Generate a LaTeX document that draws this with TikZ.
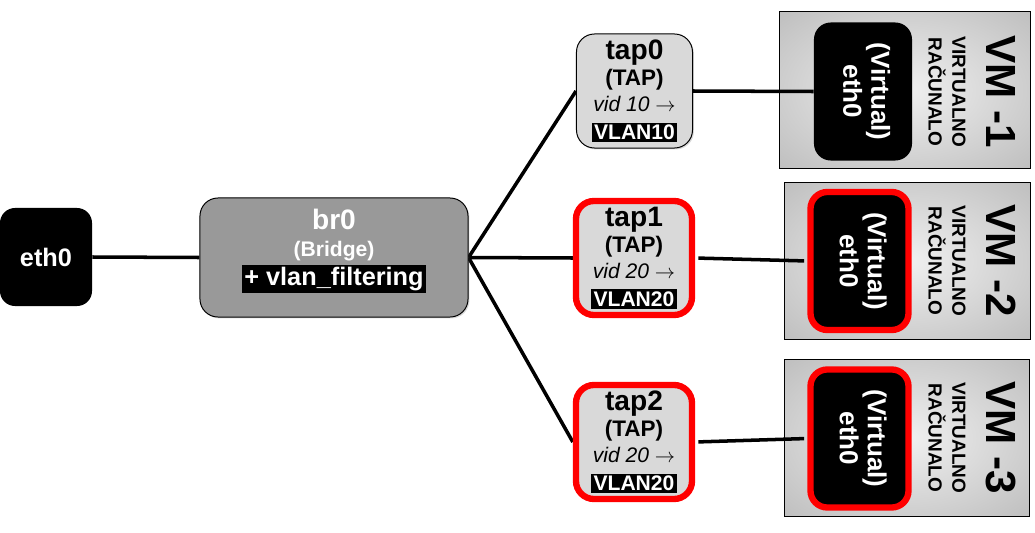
\documentclass[tikz,border=0pt]{standalone}
\usepackage{fontspec}
\setmainfont{Liberation Sans}
\usepackage{graphicx}
\usetikzlibrary{shadows,backgrounds}

\definecolor{tapgray}{HTML}{D9D9D9}
\definecolor{bridgegray}{HTML}{999999}
\definecolor{vmlight}{HTML}{F0F0F0}
\definecolor{vmdark}{HTML}{ABABAB}
\definecolor{vlanred}{HTML}{FF0000}

\pgfdeclareradialshading{vmglow}{\pgfpointorigin}{color(0bp)=(vmlight); color(50bp)=(vmdark); color(71bp)=(vmdark!85!black)}

\newcommand{\titlesize}{\fontsize{20}{22}\selectfont}
\newcommand{\tagsize}{\fontsize{15}{17}\selectfont}
\newcommand{\tagbox}[1]{{\setlength{\fboxsep}{1.5pt}\colorbox{black}{\textcolor{white}{#1}}}}
\newcommand{\vethtext}{\rotatebox{-90}{\begin{tabular}{@{}c@{}}(Virtual)\\eth0\end{tabular}}}

\tikzset{
  link/.style={line width=2.5pt},
  softshadow/.style={drop shadow={shadow xshift=1pt,shadow yshift=-1pt,opacity=0.3}},
  hostport/.style={rectangle,rounded corners=0.375cm,fill=black,text=white,
    minimum width=2.3cm,minimum height=2.45cm,font=\bfseries\fontsize{18}{20}\selectfont},
  bridgebox/.style={rectangle,rounded corners=0.45cm,draw,line width=0.7pt,fill=bridgegray,
    minimum width=6.7cm,minimum height=2.975cm,softshadow},
  bridgetext/.style={text=white,align=center,font=\bfseries\fontsize{15}{19.5}\selectfont},
  tapbox/.style={rectangle,rounded corners=0.45cm,draw,line width=0.7pt,fill=tapgray,
    minimum width=2.9cm,minimum height=2.85cm,align=center,
    font=\bfseries\fontsize{16}{18.5}\selectfont,softshadow},
  tapvlan/.style={tapbox,draw=vlanred,line width=4.5pt},
  vmbox/.style={rectangle,draw,line width=0.7pt,shading=vmglow,minimum height=3.9cm,softshadow},
  vethbox/.style={rectangle,rounded corners=0.42cm,fill=black,text=white,
    minimum width=2.45cm,minimum height=3.45cm,font=\bfseries\fontsize{18.5}{20}\selectfont},
  vethvlan/.style={vethbox,draw=vlanred,line width=4.5pt},
  vmname/.style={rotate=-90,font=\bfseries\fontsize{30}{32}\selectfont},
  vmkind/.style={rotate=-90,align=center,font=\bfseries\fontsize{13.5}{17}\selectfont}
}

\begin{document}
\begin{tikzpicture}[x=0.025cm,y=-0.025cm]
  \useasboundingbox (0,0) rectangle (1035,533);
  %
  % -- Host: physical port and the bridge
  \node[hostport] (eth0) at (46,257) {eth0};
  \node[bridgebox] (br0) at (334,257.5) {};
  \node[bridgetext] (br0-label) at (334,251)
    {{\titlesize br0}\\(Bridge)\\[1pt]{\fontsize{18}{20}\selectfont\tagbox{+ vlan\_filtering}}};

  % -- TAP devices, one per guest
  \node[tapbox] (tap0) at (634.5,91)
    {{\titlesize tap0}\\(TAP)\\{\mdseries\itshape\tagsize vid 10 $\rightarrow$}\\[1pt]{\tagsize\tagbox{VLAN10}}};
  \node[tapvlan] (tap1) at (634,258)
    {{\titlesize tap1}\\(TAP)\\{\mdseries\itshape\tagsize vid 20 $\rightarrow$}\\[1pt]{\tagsize\tagbox{VLAN20}}};
  \node[tapvlan] (tap2) at (634,442)
    {{\titlesize tap2}\\(TAP)\\{\mdseries\itshape\tagsize vid 20 $\rightarrow$}\\[1pt]{\tagsize\tagbox{VLAN20}}};

  % -- Guests
  \node[vmbox,minimum width=6.25cm] (vm1) at (905,90) {};
  \node[vmbox,minimum width=6.125cm] (vm2) at (907.5,261) {};
  \node[vmbox,minimum width=6.1cm] (vm3) at (907,438) {};

  \node[vethbox] (veth1) at (863,91.5) {\vethtext};
  \node[vethvlan] (veth2) at (859.5,261) {\vethtext};
  \node[vethvlan] (veth3) at (859.5,438.5) {\vethtext};

  \node[vmname] (vm1-name) at (1001,92) {VM -1};
  \node[vmkind] (vm1-kind) at (947,92) {VIRTUALNO\\RAČUNALO};
  \node[vmname] (vm2-name) at (1001,261) {VM -2};
  \node[vmkind] (vm2-kind) at (947,261) {VIRTUALNO\\RAČUNALO};
  \node[vmname] (vm3-name) at (1001,438) {VM -3};
  \node[vmkind] (vm3-kind) at (947,438) {VIRTUALNO\\RAČUNALO};

  % -- Links
  \begin{scope}[on background layer]
    \draw[link] (eth0.east) -- (br0.west);
    \draw[link] (br0.east) -- (tap0.west);
    \draw[link] (br0.east) -- (tap1.west);
    \draw[link] (br0.east) -- (tap2.west);
  \end{scope}
  \draw[link] (tap0.east) -- (veth1.west);
  \draw[link,shorten <=2.25pt,shorten >=2.25pt] (tap1.east) -- (veth2.west);
  \draw[link,shorten <=2.25pt,shorten >=2.25pt] (tap2.east) -- (veth3.west);
\end{tikzpicture}
\end{document}
